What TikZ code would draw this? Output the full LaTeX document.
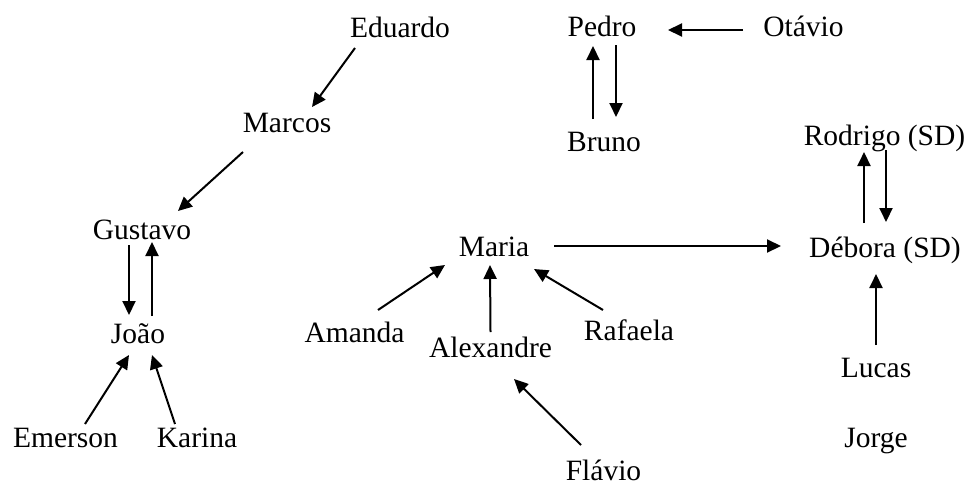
\documentclass[tikz,border=0pt]{standalone}
\usepackage{fontspec}
\setmainfont{Liberation Serif}
\usetikzlibrary{arrows.meta,calc}
\tikzset{
  name-style/.style = {
    anchor=base, inner sep=0pt,
    font=\fontsize{14.75}{17}\selectfont
  },
  link-style/.style = {
    draw, line width=1pt,
    -{Triangle[length=7pt,width=6.5pt]}
  }
}
% arrow from an offset of one name to an offset of another
\def\link from:#1+#2 to:#3+#4;{
  \draw [link-style] ($(#1.base)+#2$) -- ($(#3.base)+#4$);
}

\begin{document}
\begin{tikzpicture}[x=0.5pt,y=-0.5pt]
  \useasboundingbox (0,0) rectangle (972,487);

  % names
  \node [name-style] (eduardo)   at (400,37)    {Eduardo};
  \node [name-style] (marcos)    at (287,132)   {Marcos};
  \node [name-style] (gustavo)   at (142,239)   {Gustavo};
  \node [name-style] (joao)      at (138,343)   {João};
  \node [name-style] (emerson)   at (65.5,447)  {Emerson};
  \node [name-style] (karina)    at (197,447)   {Karina};
  \node [name-style] (pedro)     at (602,36)    {Pedro};
  \node [name-style] (otavio)    at (803.5,36)  {Otávio};
  \node [name-style] (bruno)     at (604,151)   {Bruno};
  \node [name-style] (rodrigo)   at (884.5,145) {Rodrigo (SD)};
  \node [name-style] (maria)     at (494,256)   {Maria};
  \node [name-style] (debora)    at (885,257)   {Débora (SD)};
  \node [name-style] (amanda)    at (354.5,342) {Amanda};
  \node [name-style] (alexandre) at (490.5,357) {Alexandre};
  \node [name-style] (rafaela)   at (629,340)   {Rafaela};
  \node [name-style] (flavio)    at (603.5,480) {Flávio};
  \node [name-style] (lucas)     at (876,377)   {Lucas};
  \node [name-style] (jorge)     at (876,447)   {Jorge};

  % links
  \link from:eduardo+(-45,11) to:marcos+(25,-25);
  \link from:marcos+(-44,20) to:gustavo+(36,-28);
  \link from:gustavo+(-13,6) to:joao+(-9,-28);
  \link from:joao+(14,-27) to:gustavo+(10,3);
  \link from:emerson+(19.5,-23) to:joao+(-9,12);
  \link from:karina+(-22,-23) to:joao+(14,12);
  \link from:amanda+(23.5,-32) to:maria+(-49,9);
  \link from:alexandre+(0,-25) to:maria+(-4,9);
  \link from:rafaela+(-26,-30) to:maria+(40,13);
  \link from:flavio+(-22.5,-35) to:alexandre+(23.5,22);
  \link from:maria+(60,-10) to:debora+(-104,-11);
  \link from:lucas+(0,-32) to:debora+(-9,17);
  \link from:debora+(-21,-34) to:rodrigo+(-20.5,7);
  \link from:rodrigo+(1.5,5) to:debora+(1,-35);
  \link from:otavio+(-60.5,-6) to:pedro+(66,-6);
  \link from:bruno+(-11,-32) to:pedro+(-9,10);
  \link from:pedro+(14,9) to:bruno+(12,-34);
\end{tikzpicture}
\end{document}
